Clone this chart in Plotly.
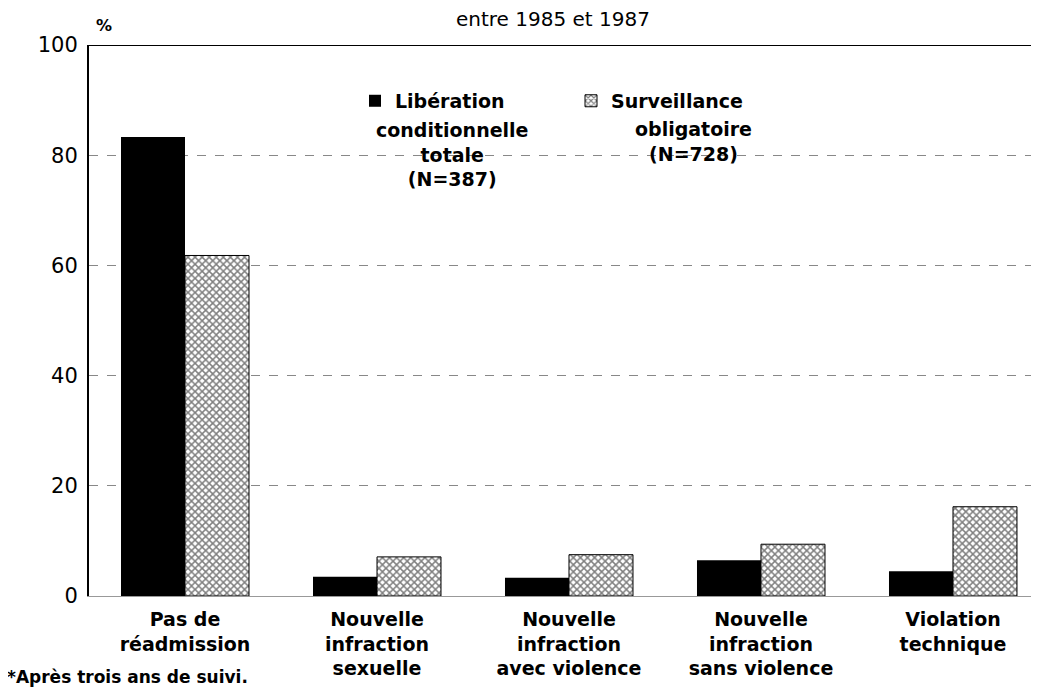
import plotly.graph_objects as go

categories = ["Pas de<br>réadmission", "Nouvelle<br>infraction<br>sexuelle",
              "Nouvelle<br>infraction<br>avec violence", "Nouvelle<br>infraction<br>sans violence",
              "Violation<br>technique"]
liberation = [83.3, 3.5, 3.3, 6.5, 4.5]
surveillance = [61.8, 7.1, 7.5, 9.4, 16.2]
series_names = ["Libération", "Surveillance"]
series_subtitles = ["conditionnelle<br>totale<br>(N=387)", "obligatoire<br>(N=728)"]
y_ticks = [0, 20, 40, 60, 80, 100]

FONT = "DejaVu Sans"
OFF = 8  # body margin of the html page

fig = go.Figure()
fig.add_trace(go.Bar(x=categories, y=liberation, name=series_names[0],
                     marker=dict(color="black", line=dict(width=0))))
fig.add_trace(go.Bar(x=categories, y=surveillance, name=series_names[1],
                     marker=dict(color="white", line=dict(color="black", width=1),
                                 pattern=dict(shape="x", fgcolor="black", bgcolor="white",
                                              size=5, solidity=0.5))))

fig.add_shape(type="line", xref="paper", yref="y", x0=0, x1=1, y0=100, y1=100,
              line=dict(color="black", width=2))

fig.update_layout(
    width=1039, height=687,
    margin=dict(l=89 - OFF, r=OFF, t=45 - OFF, b=91 + OFF, autoexpand=False),
    paper_bgcolor="white", plot_bgcolor="white",
    barmode="group", bargap=1/3, bargroupgap=0,
    font=dict(family=FONT, size=17, color="black", weight="bold"),
    showlegend=True,
    legend=dict(orientation="h", x=0.28, y=0.933, xanchor="left", yanchor="top",
                valign="top", bgcolor="rgba(0,0,0,0)", font=dict(size=19, weight="bold"),
                itemwidth=30, entrywidth=171, tracegroupgap=0),
    annotations=[
        dict(text="entre 1985 et 1987", xref="paper", yref="paper", x=0.488, y=1.0,
             yshift=26, showarrow=False, font=dict(size=20, weight="normal"),
             xanchor="center", yanchor="middle"),
        dict(text="%", xref="paper", yref="paper", x=0.005, y=1.0, yshift=8,
             showarrow=False, font=dict(size=16), xanchor="left", yanchor="bottom"),
        dict(text=series_subtitles[0], xref="paper", yref="paper", x=0.382, y=0.869,
             showarrow=False, font=dict(size=19), xanchor="center", yanchor="top"),
        dict(text=series_subtitles[1], xref="paper", yref="paper", x=0.636, y=0.871,
             showarrow=False, font=dict(size=19), xanchor="center", yanchor="top"),
        dict(text="*Après trois ans de suivi.", xref="paper", yref="paper", x=-0.088, y=0,
             yshift=-81, showarrow=False, font=dict(size=17, weight="bold"),
             xanchor="left", yanchor="middle"),
    ],
)
fig.update_xaxes(range=[-0.5, 4.448], showgrid=False, showline=True, linecolor="#999999",
                 linewidth=1, ticks="", tickfont=dict(size=19), ticklabelstandoff=6,
                 automargin=False)
fig.update_yaxes(range=[0, 100], tickvals=y_ticks, showgrid=True, gridcolor="#888888",
                 griddash="dash", gridwidth=1, zeroline=False, showline=True,
                 linecolor="black", linewidth=2, ticks="", ticklabelstandoff=5,
                 tickfont=dict(size=21, weight="normal"), automargin=False)

fig.write_html("out.html")
